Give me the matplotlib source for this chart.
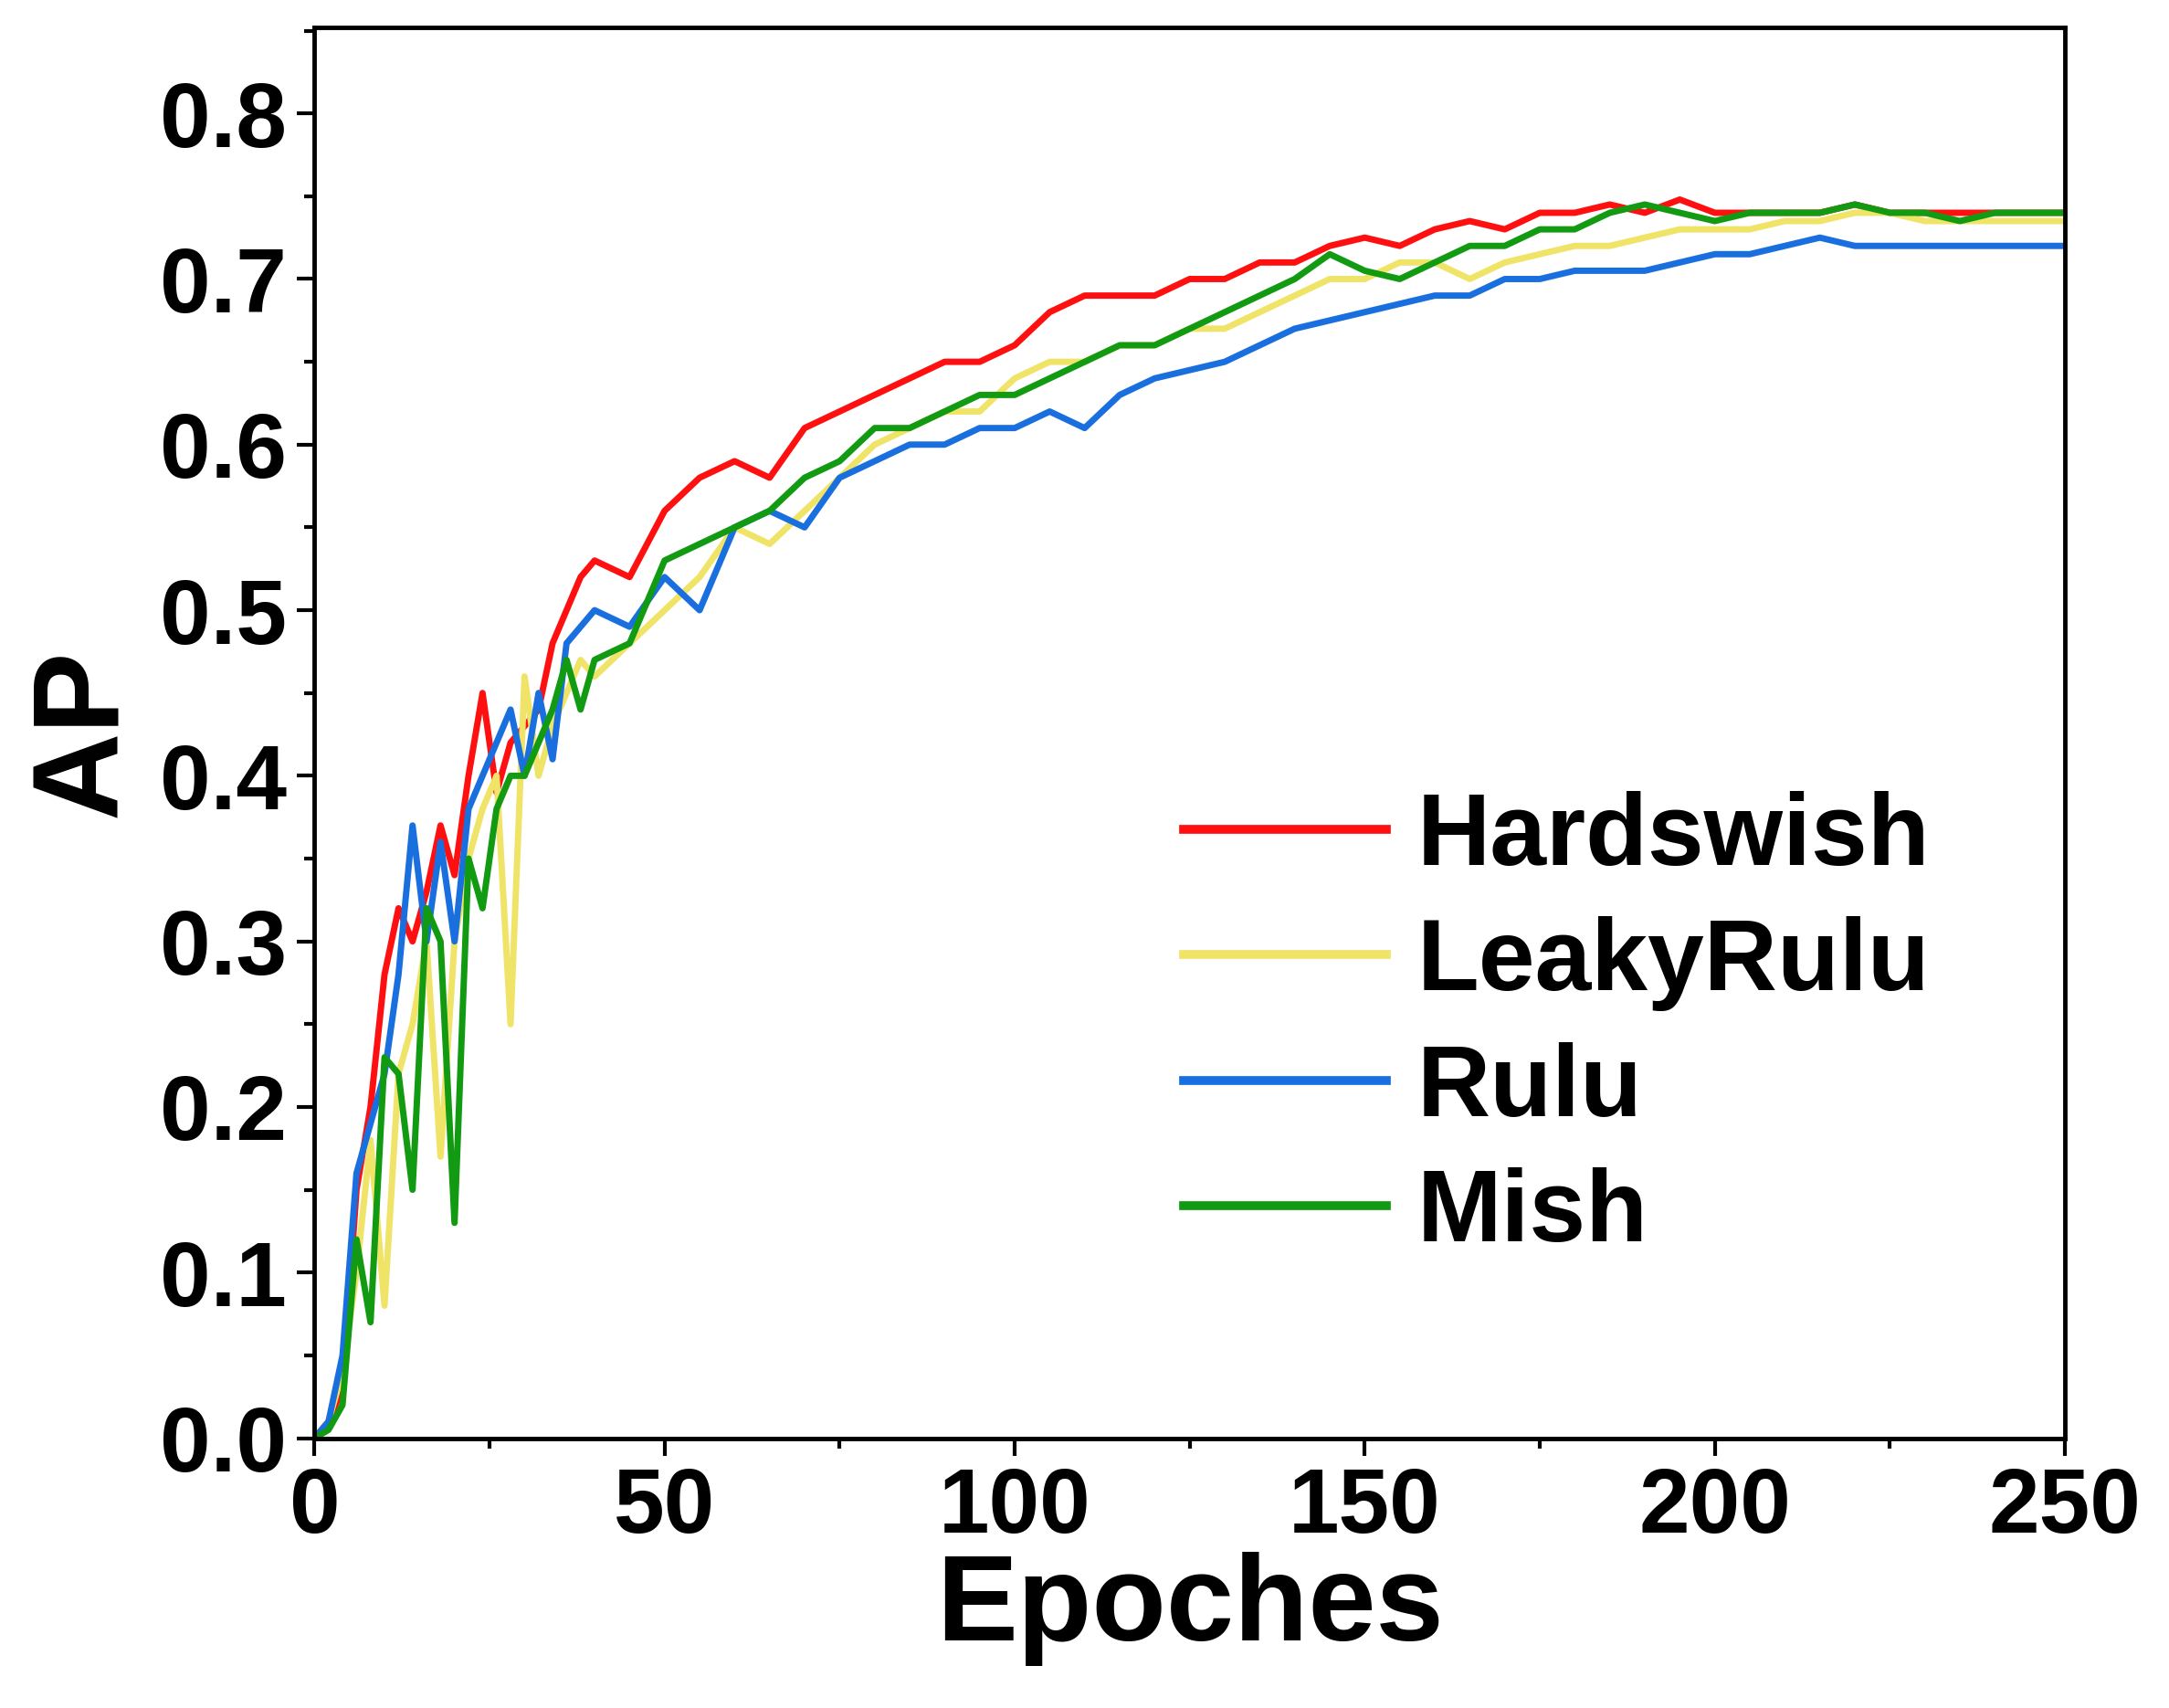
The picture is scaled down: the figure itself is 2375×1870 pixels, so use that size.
import matplotlib
matplotlib.use("Agg")
import matplotlib.pyplot as plt
from matplotlib.ticker import MultipleLocator

# === DATA ===
epochs = [0, 2, 4, 6, 8, 10, 12, 14, 16, 18, 20, 22, 24, 26, 28, 30, 32, 34, 36, 38, 40,
          45, 50, 55, 60, 65, 70, 75, 80, 85, 90, 95, 100, 105, 110, 115, 120, 125, 130,
          135, 140, 145, 150, 155, 160, 165, 170, 175, 180, 185, 190, 195, 200, 205, 210,
          215, 220, 225, 230, 235, 240, 245, 250]

hardswish = [0, 0.01, 0.03, 0.15, 0.20, 0.28, 0.32, 0.30, 0.33, 0.37, 0.34, 0.40, 0.45, 0.39,
             0.42, 0.43, 0.44, 0.48, 0.50, 0.52, 0.53,
             0.52, 0.56, 0.58, 0.59, 0.58, 0.61, 0.62, 0.63, 0.64, 0.65, 0.65, 0.66, 0.68,
             0.69, 0.69, 0.69, 0.70, 0.70, 0.71, 0.71, 0.72, 0.725, 0.72, 0.73, 0.735, 0.73,
             0.74, 0.74, 0.745, 0.74, 0.748, 0.74, 0.74, 0.74, 0.74, 0.745, 0.74, 0.74,
             0.74, 0.74, 0.74, 0.74]

leakyrulu = [0, 0.01, 0.04, 0.10, 0.18, 0.08, 0.22, 0.25, 0.30, 0.17, 0.30, 0.35, 0.38, 0.40,
             0.25, 0.46, 0.40, 0.43, 0.45, 0.47, 0.46,
             0.48, 0.50, 0.52, 0.55, 0.54, 0.56, 0.58, 0.60, 0.61, 0.62, 0.62, 0.64, 0.65,
             0.65, 0.66, 0.66, 0.67, 0.67, 0.68, 0.69, 0.70, 0.70, 0.71, 0.71, 0.70, 0.71,
             0.715, 0.72, 0.72, 0.725, 0.73, 0.73, 0.73, 0.735, 0.735, 0.74, 0.74, 0.735,
             0.735, 0.735, 0.735, 0.735]

rulu = [0, 0.01, 0.05, 0.16, 0.19, 0.22, 0.28, 0.37, 0.30, 0.36, 0.30, 0.38, 0.40, 0.42,
        0.44, 0.40, 0.45, 0.41, 0.48, 0.49, 0.50,
        0.49, 0.52, 0.50, 0.55, 0.56, 0.55, 0.58, 0.59, 0.60, 0.60, 0.61, 0.61, 0.62, 0.61,
        0.63, 0.64, 0.645, 0.65, 0.66, 0.67, 0.675, 0.68, 0.685, 0.69, 0.69, 0.70, 0.70,
        0.705, 0.705, 0.705, 0.71, 0.715, 0.715, 0.72, 0.725, 0.72, 0.72, 0.72, 0.72,
        0.72, 0.72, 0.72]

mish = [0, 0.005, 0.02, 0.12, 0.07, 0.23, 0.22, 0.15, 0.32, 0.30, 0.13, 0.35, 0.32, 0.38,
        0.40, 0.40, 0.42, 0.44, 0.47, 0.44, 0.47,
        0.48, 0.53, 0.54, 0.55, 0.56, 0.58, 0.59, 0.61, 0.61, 0.62, 0.63, 0.63, 0.64, 0.65,
        0.66, 0.66, 0.67, 0.68, 0.69, 0.70, 0.715, 0.705, 0.70, 0.71, 0.72, 0.72, 0.73,
        0.73, 0.74, 0.745, 0.74, 0.735, 0.74, 0.74, 0.74, 0.745, 0.74, 0.74, 0.735, 0.74,
        0.74, 0.74]

series = [("Hardswish", hardswish, "#ff1010"),
          ("LeakyRulu", leakyrulu, "#f0e468"),
          ("Rulu", rulu, "#1a6fdf"),
          ("Mish", mish, "#129a12")]

plt.rcParams['font.family'] = ['Liberation Sans', 'DejaVu Sans']
plt.rcParams['font.weight'] = 'bold'

fig = plt.figure(figsize=(23.75, 18.7), dpi=100)
ax = fig.add_axes([0.145, 0.158, 0.807, 0.826])

for name, vals, col in series:
    ax.plot(epochs, vals, color=col, lw=5, label=name)

ax.set_xlim(0, 250)
ax.set_ylim(0, 0.852)
ax.xaxis.set_major_locator(MultipleLocator(50))
ax.xaxis.set_minor_locator(MultipleLocator(25))
ax.yaxis.set_major_locator(MultipleLocator(0.1))
ax.yaxis.set_minor_locator(MultipleLocator(0.05))
ax.yaxis.set_major_formatter(plt.FuncFormatter(lambda v, p: f"{v:.1f}"))
ax.tick_params(which='major', length=14, width=3, labelsize=72, pad=8)
ax.tick_params(which='minor', length=8, width=3)
for s in ax.spines.values():
    s.set_linewidth(3.5)

ax.set_xlabel("Epoches", fontsize=96, fontweight='bold', labelpad=0)
ax.set_ylabel("AP", fontsize=96, fontweight='bold', labelpad=14)

leg = ax.legend(loc='lower right', bbox_to_anchor=(0.975, 0.06), frameon=False,
                fontsize=80, handlelength=2.0, handletextpad=0.3, labelspacing=0.3)
for line in leg.get_lines():
    line.set_linewidth(7)

fig.savefig("out.png", dpi=100)
